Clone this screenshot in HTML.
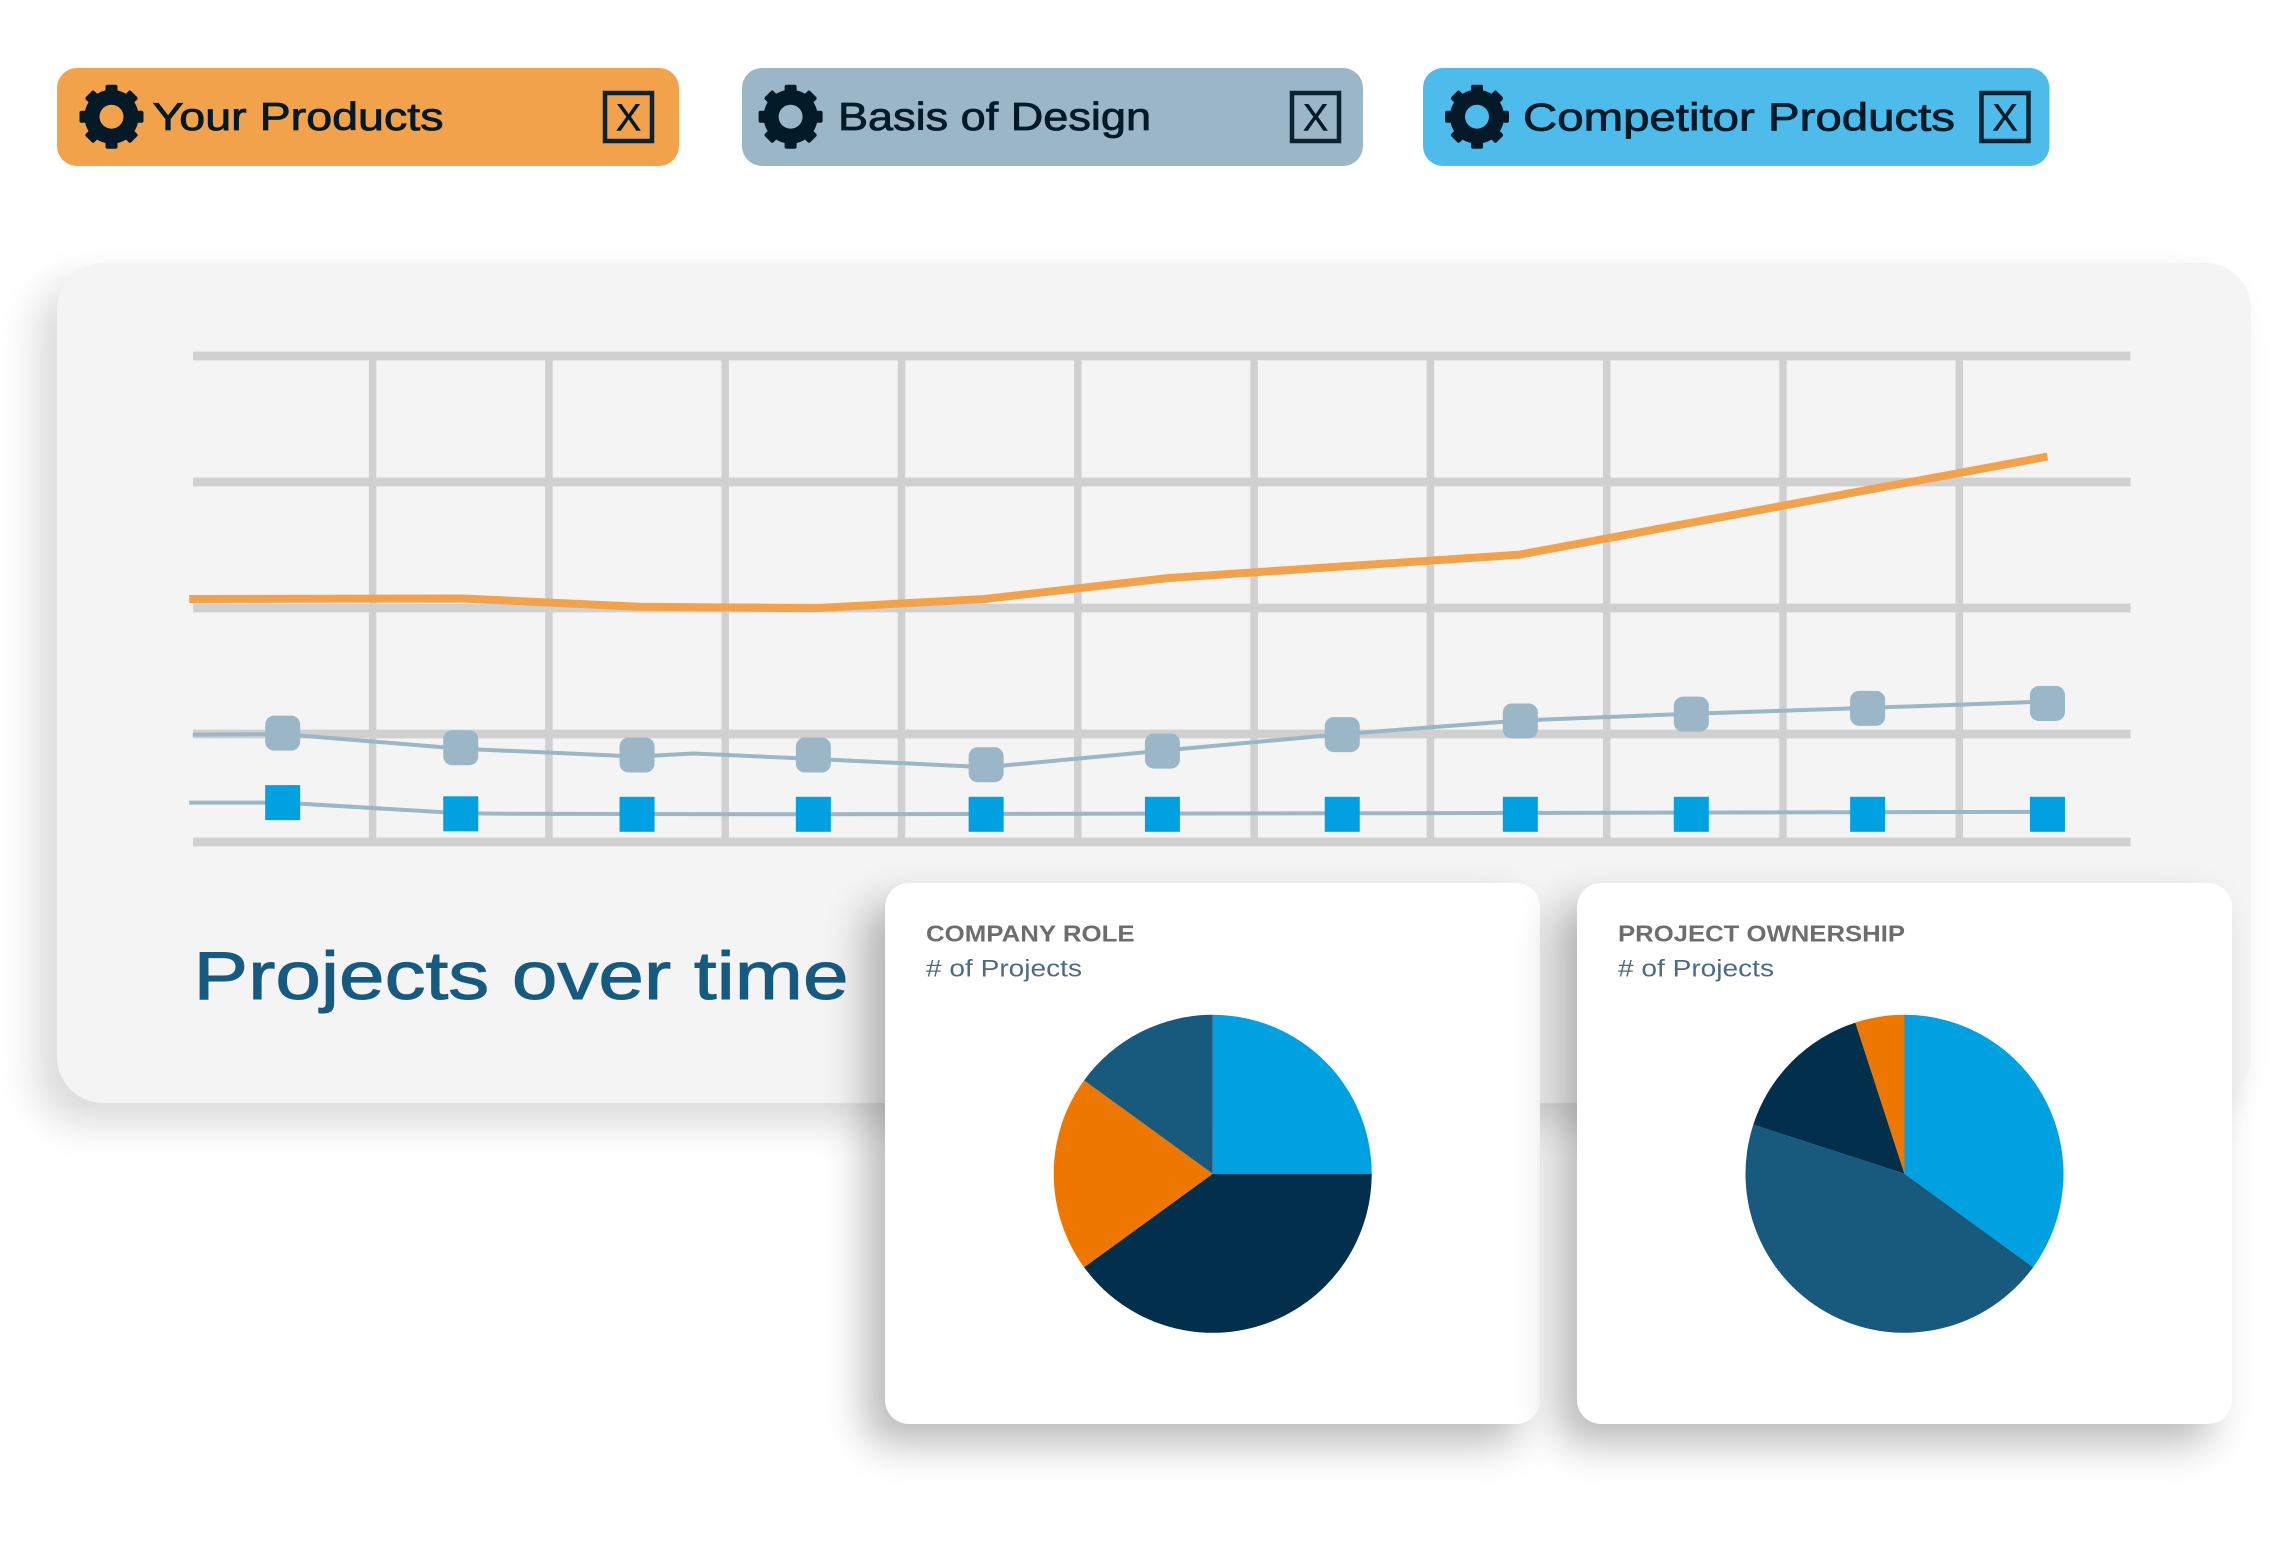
<!DOCTYPE html>
<html lang="en">
<head>
<meta charset="utf-8">
<title>Projects over time</title>
<style>
  html,body{margin:0;padding:0;background:#fff;}
  body{width:2293px;height:1546px;position:relative;overflow:hidden;font-family:"Liberation Sans",sans-serif;}
  .panel{position:absolute;box-sizing:border-box;}
  svg{position:absolute;left:0;top:0;overflow:visible;}
  text{font-family:"Liberation Sans",sans-serif;}
</style>
</head>
<body>

<div class="panel"
     style="left:57px;top:263px;width:2194px;height:840px;background:#f4f4f4;border-radius:46px;box-shadow:-20px 20px 40px rgba(0,0,0,.15);"></div>

<svg id="top" width="2293" height="1546" viewBox="0 0 2293 1546">
  <defs>
    <g id="gear-shape">
      <circle cx="0" cy="0" r="19.5" fill="none" stroke="#021a28" stroke-width="15"/>
      <rect x="-6" y="-32" width="12" height="64" rx="2" fill="#021a28"/>
      <rect x="-6" y="-32" width="12" height="64" rx="2" fill="#021a28" transform="rotate(45)"/>
      <rect x="-6" y="-32" width="12" height="64" rx="2" fill="#021a28" transform="rotate(90)"/>
      <rect x="-6" y="-32" width="12" height="64" rx="2" fill="#021a28" transform="rotate(135)"/>
    </g>
    <g id="gear-icon">
      <use href="#gear-shape"/>
    </g>
  </defs>

  <g>
    <rect x="57" y="68" width="622" height="98" rx="20" fill="#f3a24c"/>
    <g transform="translate(111.5 116.7)"><use href="#gear-icon"/><circle r="12" fill="#f3a24c"/></g>
    <text x="152.5" y="130" font-size="39" fill="#021a28" stroke="#021a28" stroke-width=".8" textLength="291" lengthAdjust="spacingAndGlyphs">Your Products</text>
    <rect x="605" y="93" width="47" height="48" fill="none" stroke="#0b2230" stroke-width="4.5"/>
    <text x="628.5" y="130.5" font-size="38" fill="#021a28" stroke="#021a28" stroke-width=".5" text-anchor="middle">X</text>
  </g>

  <g>
    <rect x="742" y="68" width="621" height="98" rx="20" fill="#9ab6c7"/>
    <g transform="translate(790.6 116.7)"><use href="#gear-icon"/><circle r="12" fill="#9ab6c7"/></g>
    <text x="838" y="130" font-size="39" fill="#021a28" stroke="#021a28" stroke-width=".8" textLength="313" lengthAdjust="spacingAndGlyphs">Basis of Design</text>
    <rect x="1292" y="93" width="47" height="48" fill="none" stroke="#0b2230" stroke-width="4.5"/>
    <text x="1315.5" y="130.5" font-size="38" fill="#021a28" stroke="#021a28" stroke-width=".5" text-anchor="middle">X</text>
  </g>

  <g>
    <rect x="1423" y="68" width="626.5" height="98" rx="20" fill="#4dbcea"/>
    <g transform="translate(1477 116.7)"><use href="#gear-icon"/><circle r="12" fill="#4dbcea"/></g>
    <text x="1523" y="130.5" font-size="39" fill="#021a28" stroke="#021a28" stroke-width=".8" textLength="432" lengthAdjust="spacingAndGlyphs">Competitor Products</text>
    <rect x="1981.5" y="93" width="47" height="48" fill="none" stroke="#0b2230" stroke-width="4.5"/>
    <text x="2005" y="130.5" font-size="38" fill="#021a28" stroke="#021a28" stroke-width=".5" text-anchor="middle">X</text>
  </g>

  <g id="line-chart"></g>

  <text x="193.5" y="999" font-size="68" fill="#175a80" stroke="#175a80" stroke-width="1" textLength="655" lengthAdjust="spacingAndGlyphs">Projects over time</text>
</svg>

<div class="panel"
     style="left:885px;top:883px;width:655px;height:541px;background:#fff;border-radius:24px;box-shadow:-20px 20px 40px rgba(0,0,0,.27);"></div>
<div class="panel"
     style="left:1577px;top:883px;width:655px;height:541px;background:#fff;border-radius:24px;box-shadow:-20px 20px 40px rgba(0,0,0,.27);"></div>

<svg id="bottom" width="2293" height="1546" viewBox="0 0 2293 1546">
  <text x="926" y="941.5" font-size="23" font-weight="700" fill="#6d6d6d" textLength="208.6" lengthAdjust="spacingAndGlyphs">COMPANY ROLE</text>
  <text x="926" y="976.7" font-size="24" fill="#4d6a87" textLength="156" lengthAdjust="spacingAndGlyphs"># of Projects</text>
  <g id="pie-company"></g>

  <text x="1618" y="941.5" font-size="23" font-weight="700" fill="#6d6d6d" textLength="287" lengthAdjust="spacingAndGlyphs">PROJECT OWNERSHIP</text>
  <text x="1618" y="976.7" font-size="24" fill="#4d6a87" textLength="156" lengthAdjust="spacingAndGlyphs"># of Projects</text>
  <g id="pie-ownership"></g>
</svg>

<script>
// ---- line chart data (period index on x, percent of axis on y) ----
const yGridValues = [100, 74.07, 48.15, 22.22, 0];
const xGridPeriods = [1, 2, 3, 4, 5, 6, 7, 8, 9, 10];

const yourProductsPeriods = [-0.04, 1.51, 2.52, 3.50, 4.47, 5.51, 7.50, 10.50];
const yourProductsValues = [50.0, 50.1, 48.4, 48.1, 50.0, 54.3, 59.1, 79.3];

const basisLinePeriods = [-0.02, 0.49, 1.50, 2.50, 2.82, 3.50, 4.48, 5.48, 6.50, 7.51, 8.48, 9.48, 10.50];
const basisLineValues = [22.1, 22.2, 19.2, 17.6, 18.2, 17.1, 15.4, 18.8, 22.2, 25.0, 26.4, 27.6, 28.9];

const competitorLinePeriods = [-0.04, 0.49, 1.50, 1.76, 3.50, 6.50, 10.50];
const competitorLineValues = [8.1, 8.1, 5.9, 5.8, 5.7, 5.9, 6.2];

const markerPeriods = [0.49, 1.50, 2.50, 3.50, 4.48, 5.48, 6.50, 7.51, 8.48, 9.48, 10.50];
const basisMarkerValues = [22.4, 19.4, 17.9, 17.9, 15.9, 18.7, 22.1, 24.9, 26.3, 27.5, 28.5];
const competitorMarkerValues = [8.1, 5.8, 5.7, 5.7, 5.7, 5.7, 5.7, 5.7, 5.7, 5.7, 5.7];

// ---- pie data ----
const companyShares = [25, 40, 20, 15];
const companyColors = ['#00a1e0', '#012f4c', '#ee7700', '#175a7e'];
const companyNames = ['slice-a', 'slice-b', 'slice-c', 'slice-d'];

const ownershipShares = [35, 45, 15, 5];
const ownershipColors = ['#00a1e0', '#175a7e', '#012f4c', '#ee7700'];
const ownershipNames = ['slice-a', 'slice-b', 'slice-c', 'slice-d'];

// ---- axis functions ----
const NS = 'http://www.w3.org/2000/svg';
function xScale(p) { return 196.3 + p * 176.3; }
function yScale(v) { return 842 - v * 4.86; }

const chart = document.getElementById('line-chart');
function svgEl(tag, parent, attrs) {
  const el = document.createElementNS(NS, tag);
  for (const k in attrs) el.setAttribute(k, attrs[k]);
  parent.appendChild(el);
  return el;
}
function pointsOf(ps, vs) {
  return ps.map((p, i) => xScale(p).toFixed(1) + ',' + yScale(vs[i]).toFixed(1)).join(' ');
}

xGridPeriods.forEach(function (p) {
  const el = svgEl('line', chart, {x1: xScale(p), x2: xScale(p), y1: yScale(100), y2: yScale(0), stroke: '#d0d0d0', 'stroke-width': 7.5});
  
  
});
yGridValues.forEach(function (v) {
  const el = svgEl('line', chart, {x1: 193, x2: 2130.5, y1: yScale(v), y2: yScale(v), stroke: '#d0d0d0', 'stroke-width': 8.8});
  
  
});

const orangeLine = svgEl('polyline', chart, {points: pointsOf(yourProductsPeriods, yourProductsValues), fill: 'none', stroke: '#f3a24c', 'stroke-width': 8, 'stroke-linejoin': 'round'});



const basisLine = svgEl('polyline', chart, {points: pointsOf(basisLinePeriods, basisLineValues), fill: 'none', stroke: '#9ab6c7', 'stroke-width': 4, 'stroke-linejoin': 'round'});



const competitorLine = svgEl('polyline', chart, {points: pointsOf(competitorLinePeriods, competitorLineValues), fill: 'none', stroke: '#9ab6c7', 'stroke-width': 4, 'stroke-linejoin': 'round'});



markerPeriods.forEach(function (p, i) {
  const el = svgEl('rect', chart, {x: xScale(p) - 17.5, y: yScale(basisMarkerValues[i]) - 17.5, width: 35, height: 35, rx: 9, fill: '#9ab6c7'});
  
  
});
markerPeriods.forEach(function (p, i) {
  const el = svgEl('rect', chart, {x: xScale(p) - 17.5, y: yScale(competitorMarkerValues[i]) - 17.5, width: 35, height: 35, fill: '#00a1e0'});
  
  
});

function drawPie(groupId, cx, cy, r, shares, colors, names) {
  const group = document.getElementById(groupId);
  const total = shares.reduce(function (a, b) { return a + b; }, 0);
  let start = 0;
  shares.forEach(function (s, i) {
    const end = start + s / total * Math.PI * 2;
    const x0 = cx + r * Math.sin(start), y0 = cy - r * Math.cos(start);
    const x1 = cx + r * Math.sin(end), y1 = cy - r * Math.cos(end);
    const large = end - start > Math.PI ? 1 : 0;
    const path = svgEl('path', group, {d: 'M' + cx + ' ' + cy + 'L' + x0 + ' ' + y0 + 'A' + r + ' ' + r + ' 0 ' + large + ' 1 ' + x1 + ' ' + y1 + 'Z', fill: colors[i]});
    
    
    start = end;
  });
}
drawPie('pie-company', 1212.7, 1173.8, 159, companyShares, companyColors, companyNames);
drawPie('pie-ownership', 1904.5, 1173.8, 159, ownershipShares, ownershipColors, ownershipNames);
</script>
</body>
</html>
